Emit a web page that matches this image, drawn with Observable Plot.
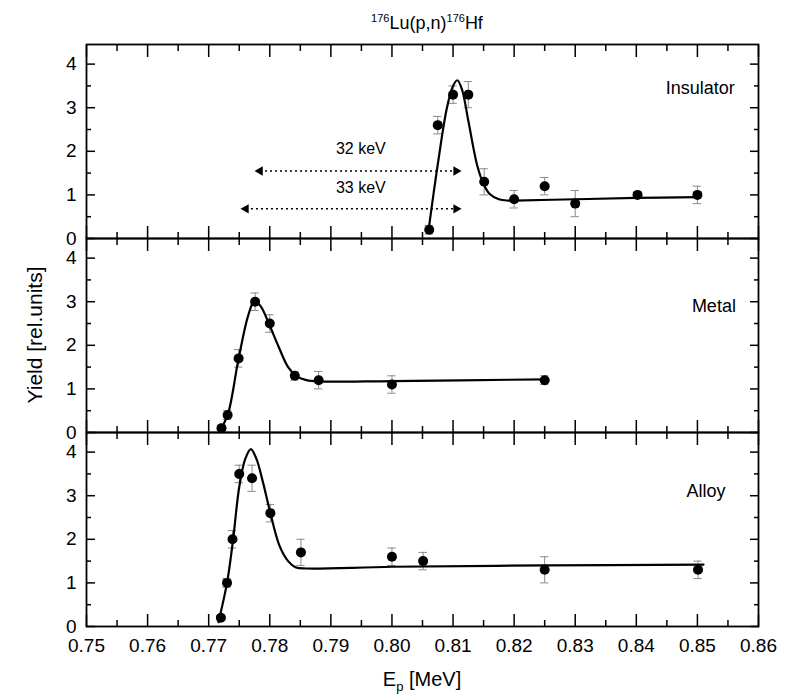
<!DOCTYPE html>
<html><head><meta charset="utf-8">
<script src="https://cdn.jsdelivr.net/npm/d3@7"></script>
<script src="https://cdn.jsdelivr.net/npm/@observablehq/plot@0.6"></script>
<style>
body{margin:0;background:#fff;}
#wrap{position:relative;width:792px;height:699px;font-family:"Liberation Sans",Arial,sans-serif;color:#000;overflow:hidden;}
#title{position:absolute;left:86px;width:682px;top:12px;text-align:center;font-size:18px;}
#title sup{font-size:11px;}
#ylab{position:absolute;left:35px;top:335px;transform:translate(-50%,-50%) rotate(-90deg);white-space:nowrap;font-size:21px;}
#xlab{position:absolute;left:322px;width:200px;top:668px;text-align:center;font-size:20px;}
#xlab sub{font-size:13px;}
#chart{position:absolute;left:0;top:0;}
</style></head>
<body><div id="wrap">
<div id="title"><sup>176</sup>Lu(p,n)<sup>176</sup>Hf</div>
<div id="ylab">Yield [rel.units]</div>
<div id="xlab">E<sub>p</sub> [MeV]</div>
<div id="chart"></div>
</div>
<script>
const panels = ["Insulator", "Metal", "Alloy"];

// Insulator data
const insE   = [0.8061, 0.8075, 0.8100, 0.8125, 0.8151, 0.8200, 0.8250, 0.8300, 0.8402, 0.8500];
const insY   = [0.2, 2.6, 3.3, 3.3, 1.3, 0.9, 1.2, 0.8, 1.0, 1.0];
const insErr = [0.1, 0.2, 0.2, 0.3, 0.3, 0.2, 0.2, 0.3, 0.05, 0.2];
const insFitE = [0.8060, 0.8075, 0.8090, 0.8100, 0.8107, 0.8115, 0.8125, 0.8140, 0.8150, 0.8160, 0.8175, 0.8190, 0.8200, 0.8300, 0.8400, 0.8500];
const insFitY = [0.2, 1.7, 3.0, 3.5, 3.63, 3.4, 2.7, 1.65, 1.25, 1.02, 0.9, 0.87, 0.87, 0.9, 0.93, 0.95];

// Metal data
const metE   = [0.7721, 0.7731, 0.7749, 0.7776, 0.7800, 0.7841, 0.7880, 0.8000, 0.8250];
const metY   = [0.1, 0.4, 1.7, 3.0, 2.5, 1.3, 1.2, 1.1, 1.2];
const metErr = [0.05, 0.1, 0.2, 0.2, 0.2, 0.1, 0.2, 0.2, 0.1];
const metFitE = [0.7718, 0.7731, 0.7749, 0.7765, 0.7775, 0.7785, 0.7800, 0.7815, 0.7830, 0.7845, 0.7860, 0.7880, 0.8000, 0.8250];
const metFitY = [0.05, 0.4, 1.7, 2.7, 3.02, 2.9, 2.45, 1.95, 1.5, 1.28, 1.2, 1.17, 1.18, 1.22];

// Alloy data
const allE   = [0.7720, 0.7730, 0.7739, 0.7750, 0.7771, 0.7801, 0.7851, 0.8000, 0.8051, 0.8250, 0.8501];
const allY   = [0.2, 1.0, 2.0, 3.5, 3.4, 2.6, 1.7, 1.6, 1.5, 1.3, 1.3];
const allErr = [0.05, 0.1, 0.2, 0.2, 0.3, 0.2, 0.3, 0.2, 0.2, 0.3, 0.2];
const allFitE = [0.7716, 0.7730, 0.7740, 0.7750, 0.7760, 0.7769, 0.7778, 0.7789, 0.7801, 0.7816, 0.7830, 0.7842, 0.7860, 0.8000, 0.8250, 0.8510];
const allFitY = [0.1, 1.0, 2.0, 3.2, 3.85, 4.07, 3.85, 3.3, 2.6, 1.85, 1.5, 1.36, 1.33, 1.37, 1.40, 1.42];

// Ticks
const xMajor = [0.75, 0.76, 0.77, 0.78, 0.79, 0.80, 0.81, 0.82, 0.83, 0.84, 0.85, 0.86];
const xMinor = [0.755, 0.765, 0.775, 0.785, 0.795, 0.805, 0.815, 0.825, 0.835, 0.845, 0.855];
const yMajor = [0, 1, 2, 3, 4];
const yMinor = [0.5, 1.5, 2.5, 3.5];

// Annotations (Insulator panel)
const arrowLabels = ["32 keV", "33 keV"];
const arrowStart = [0.7784, 0.7761];
const arrowEnd = [0.8105, 0.8105];
const arrowY = [1.55, 0.68];
const labelX = [0.7949, 0.7949];
const labelY = [2.05, 1.16];

const panelLabelX = [0.8561, 0.8563, 0.8546];
const panelLabelY = [3.45, 2.9, 3.1];

function rows(panel, E, Y, err) { return E.map((e, i) => ({panel, E: e, Y: Y[i], err: err ? err[i] : 0})); }
const points = [...rows("Insulator", insE, insY, insErr), ...rows("Metal", metE, metY, metErr), ...rows("Alloy", allE, allY, allErr)];
const fits = [...rows("Insulator", insFitE, insFitY), ...rows("Metal", metFitE, metFitY), ...rows("Alloy", allFitE, allFitY)];
const arrows = arrowLabels.map((t, i) => ({panel: "Insulator", label: t, x1: arrowStart[i], x2: arrowEnd[i], y: arrowY[i], tx: labelX[i], ty: labelY[i]}));
const plabels = panels.map((p, i) => ({panel: p, x: panelLabelX[i], y: panelLabelY[i]}));
const cap = 0.00068;
const blank = () => "";

const chart = Plot.plot({
  width: 792, height: 699,
  marginTop: 43, marginBottom: 72, marginLeft: 86, marginRight: 34,
  style: {fontFamily: "Liberation Sans, Arial, sans-serif", fontSize: "19px", color: "black", background: "transparent"},
  x: {domain: [0.75, 0.86]},
  y: {domain: [0, 4.45]},
  fy: {domain: panels, padding: 0, axis: null},
  marks: [
    Plot.axisY(yMajor, {anchor: "left", tickSize: -9, tickPadding: 19, strokeWidth: 1.5, label: null}),
    Plot.axisY(yMinor, {anchor: "left", tickSize: -5, tickFormat: blank, strokeWidth: 1.5, label: null}),
    Plot.axisY(yMajor, {anchor: "right", tickSize: -9, tickFormat: blank, strokeWidth: 1.5, label: null}),
    Plot.axisY(yMinor, {anchor: "right", tickSize: -5, tickFormat: blank, strokeWidth: 1.5, label: null}),
    Plot.axisX(xMajor, {anchor: "bottom", facetAnchor: null, tickSize: -12, tickFormat: blank, strokeWidth: 1.5, label: null}),
    Plot.axisX(xMinor, {anchor: "bottom", facetAnchor: null, tickSize: -6, tickFormat: blank, strokeWidth: 1.5, label: null}),
    Plot.axisX(xMajor, {anchor: "top", facetAnchor: null, tickSize: -12, tickFormat: blank, strokeWidth: 1.5, label: null}),
    Plot.axisX(xMinor, {anchor: "top", facetAnchor: null, tickSize: -6, tickFormat: blank, strokeWidth: 1.5, label: null}),
    Plot.axisX(xMajor, {anchor: "bottom", tickSize: 0, tickPadding: 12, tickFormat: d3.format(".2f"), label: null}),
    Plot.frame({stroke: "black", strokeWidth: 1.8}),
    Plot.ruleX(points, {x: "E", y1: d => d.Y - d.err, y2: d => d.Y + d.err, fy: "panel", stroke: "#8a8a8a", strokeWidth: 1}),
    Plot.ruleY(points, {y: d => d.Y + d.err, x1: d => d.E - cap, x2: d => d.E + cap, fy: "panel", stroke: "#8a8a8a", strokeWidth: 1}),
    Plot.ruleY(points, {y: d => d.Y - d.err, x1: d => d.E - cap, x2: d => d.E + cap, fy: "panel", stroke: "#8a8a8a", strokeWidth: 1}),
    Plot.line(fits, {x: "E", y: "Y", z: "panel", fy: "panel", curve: "catmull-rom", stroke: "black", strokeWidth: 2.2}),
    Plot.dot(points, {x: "E", y: "Y", fy: "panel", r: 5, fill: "black"}),
    Plot.link(arrows, {x1: "x1", x2: "x2", y1: "y", y2: "y", fy: "panel", stroke: "black", strokeWidth: 1.5, strokeDasharray: "2,3"}),
    Plot.dot(arrows, {x: "x2", y: "y", fy: "panel", symbol: "triangle", rotate: 90, r: 3.5, fill: "black"}),
    Plot.dot(arrows, {x: "x1", y: "y", fy: "panel", symbol: "triangle", rotate: -90, r: 3.5, fill: "black"}),
    Plot.text(arrows, {x: "tx", y: "ty", text: "label", fy: "panel", fontSize: 16, fill: "black"}),
    Plot.text(plabels, {x: "x", y: "y", text: "panel", fy: "panel", fontSize: 18, textAnchor: "end", fill: "black"})
  ]
});
document.getElementById("chart").appendChild(chart);
</script>
</body></html>
